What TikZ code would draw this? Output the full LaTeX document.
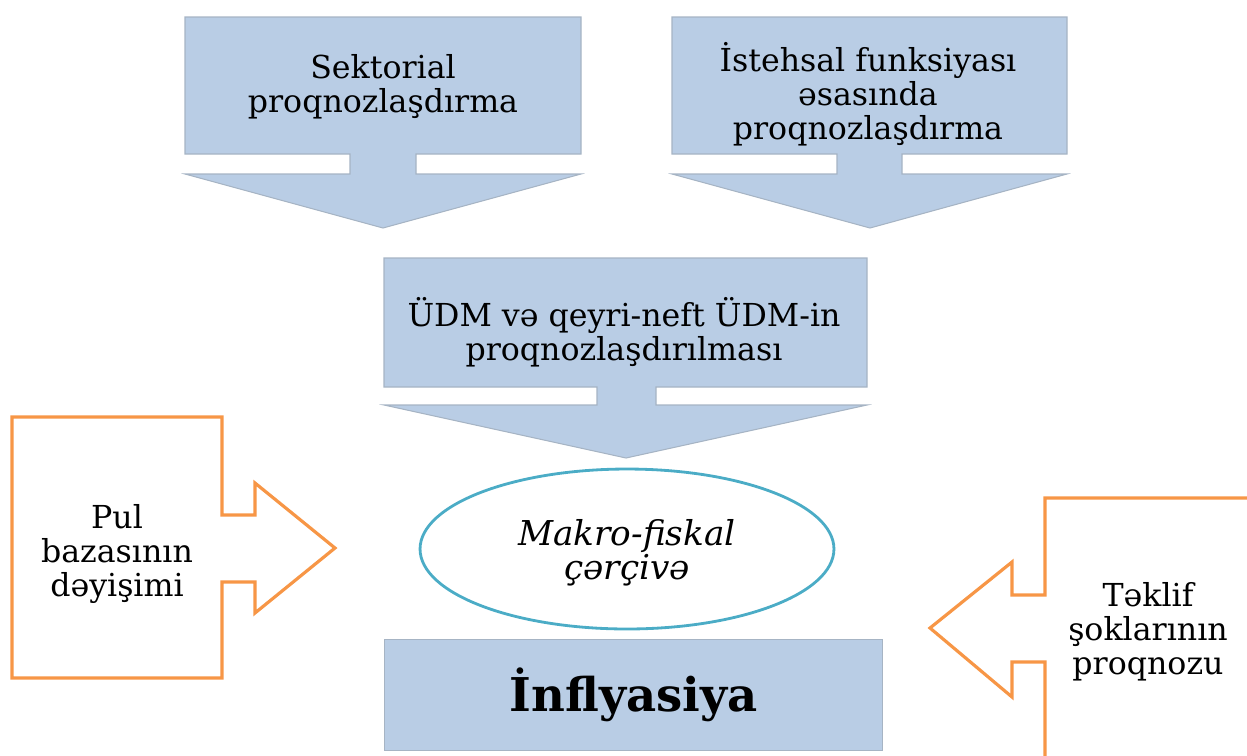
\documentclass[tikz,border=0pt]{standalone}
\usepackage{fontspec}
\setmainfont{DejaVu Serif}
\usetikzlibrary{positioning,shapes.geometric}

\definecolor{boxblue}{HTML}{B9CDE5}
\definecolor{edgegray}{HTML}{A6B4C4}
\definecolor{arroworange}{HTML}{F79646}
\definecolor{ringteal}{HTML}{4BACC6}

\begin{document}
\begin{tikzpicture}[x=0.02cm, y=-0.02cm,
        bluecallout/.style={fill=boxblue, draw=edgegray, line width=0.6pt},
        orangecallout/.style={fill=white, draw=arroworange, line width=1.8pt, line join=miter},
        txt/.style={align=center, font=\fontsize{18}{19.3}\selectfont, inner sep=0pt}]

                \useasboundingbox (0,0) rectangle (1247,755);
                \clip (0,0) rectangle (1247,755);

                % top callouts
                \draw[bluecallout] (185,17) -- (581,17) -- (581,154) -- (416,154) -- (416,174) -- (581,174) -- (383,228) -- (185,174) -- (350,174) -- (350,154) -- (185,154) -- cycle;
                \draw[bluecallout] (672,17) -- (1067,17) -- (1067,154) -- (902,154) -- (902,174) -- (1067,174) -- (870,228) -- (672,174) -- (837,174) -- (837,154) -- (672,154) -- cycle;
                \draw[bluecallout] (384,258) -- (867,258) -- (867,387) -- (656,387) -- (656,405) -- (867,405) -- (626,458) -- (384,405) -- (597,405) -- (597,387) -- (384,387) -- cycle;

                \node[txt] (sektor) at (383,87) {Sektorial\\proqnozlaşdırma};
                \node[txt] (istehsal) at (868,94) {İstehsal funksiyası\\əsasında\\proqnozlaşdırma};
                \node[txt] (udm) at (624,332) {ÜDM və qeyri-neft ÜDM-in\\proqnozlaşdırılması};

                % side callouts
                \draw[orangecallout] (12,417) -- (222,417) -- (222,515) -- (255,515) -- (255,483) -- (335,548) -- (255,613) -- (255,582) -- (222,582) -- (222,678) -- (12,678) -- cycle;
                \draw[orangecallout] (1300,498) -- (1045,498) -- (1045,595) -- (1012,595) -- (1012,562) -- (930,628) -- (1012,697) -- (1012,662) -- (1045,662) -- (1045,800) -- (1300,800) -- cycle;

                \node[txt] (pul) at (117,554) {Pul\\bazasının\\dəyişimi};
                \node[txt] (teklif) at (1148,632) {Təklif\\şoklarının\\proqnozu};

                % centre
                \node[draw=ringteal, line width=1.6pt, ellipse, minimum width=8.28cm, minimum height=3.2cm, inner sep=0pt] (makro) at (627,549) {};
                \node[txt, font=\itshape\fontsize{19.5}{19.3}\selectfont, below=0pt of makro.center, anchor=center, yshift=-2pt] (makrotxt) {Makro-fiskal\\çərçivə};

                \node[fill=boxblue, draw=edgegray, line width=0.6pt, minimum width=9.96cm, minimum height=2.22cm, anchor=north west, inner sep=0pt] (infl) at (384,639) {};
                \node[font=\bfseries\fontsize{26.5}{28}\selectfont, inner sep=0pt] (infltxt) at (infl) {İnflyasiya};

\end{tikzpicture}
\end{document}
